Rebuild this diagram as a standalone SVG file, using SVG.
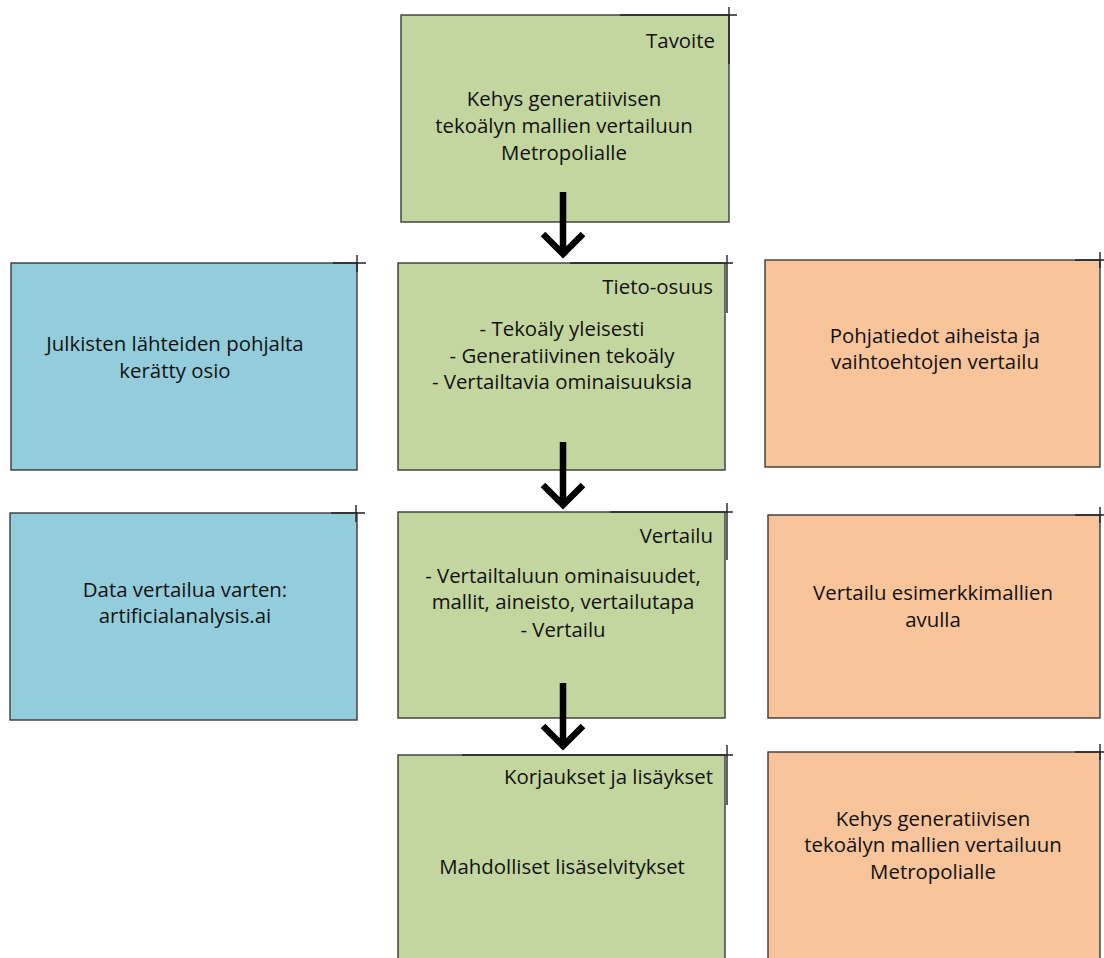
<svg xmlns="http://www.w3.org/2000/svg" width="1104" height="958" viewBox="0 0 1104 958">
<style>
.box{stroke:#3a3a3a;stroke-width:1.4}
.g{fill:#c4d69f}.b{fill:#93cddc}.o{fill:#f8c49b}
.tick{stroke:#222;stroke-width:1.4;fill:none}
text{font-family:"Open Sans","Liberation Sans",Arial,sans-serif;font-size:20.4px;fill:#111}
.c{text-anchor:middle}.r{text-anchor:end}
.arr{stroke:#000;stroke-width:6.5;fill:none;stroke-linejoin:miter}
</style>
<rect width="1104" height="958" fill="#fff"/>
<g id="tavoite">
<rect class="box g" x="401" y="15" width="328" height="207"/>
<path class="tick" d="M620 15H737M729 7V64"/>
<text class="r" x="715" y="48">Tavoite</text>
<text class="c" x="564" y="106">Kehys generatiivisen</text>
<text class="c" x="564" y="133">tekoälyn mallien vertailuun</text>
<text class="c" x="564" y="160">Metropolialle</text>
</g>
<g id="tieto">
<rect class="box g" x="398" y="263" width="327" height="207"/>
<path class="tick" d="M570 263H733M727 255V313"/>
<text class="r" x="713" y="294">Tieto-osuus</text>
<text class="c" x="562" y="336">- Tekoäly yleisesti</text>
<text class="c" x="562" y="363">- Generatiivinen tekoäly</text>
<text class="c" x="562" y="389">- Vertailtavia ominaisuuksia</text>
</g>
<g id="julkiset">
<rect class="box b" x="11" y="263" width="346" height="207"/>
<path class="tick" d="M333 263H366M357 255V272"/>
<text class="c" x="175" y="351">Julkisten lähteiden pohjalta</text>
<text class="c" x="175" y="378">kerätty osio</text>
</g>
<g id="pohjatiedot">
<rect class="box o" x="765" y="260" width="335" height="207"/>
<path class="tick" d="M1075 260H1104M1100 252V268"/>
<text class="c" x="935" y="343">Pohjatiedot aiheista ja</text>
<text class="c" x="935" y="369">vaihtoehtojen vertailu</text>
</g>
<g id="vertailu">
<rect class="box g" x="398" y="512" width="327" height="206"/>
<path class="tick" d="M610 512H733M727 503V560"/>
<text class="r" x="713" y="543">Vertailu</text>
<text class="c" x="563" y="583">- Vertailtaluun ominaisuudet,</text>
<text class="c" x="563" y="609">mallit, aineisto, vertailutapa</text>
<text class="c" x="563" y="637">- Vertailu</text>
</g>
<g id="data">
<rect class="box b" x="10" y="513" width="347" height="207"/>
<path class="tick" d="M331 513H365M356 505V522"/>
<text class="c" x="185" y="597">Data vertailua varten:</text>
<text class="c" x="185" y="623">artificialanalysis.ai</text>
</g>
<g id="esimerkki">
<rect class="box o" x="768" y="515" width="332" height="203"/>
<path class="tick" d="M1075 515H1104M1100 507V523"/>
<text class="c" x="933" y="600">Vertailu esimerkkimallien</text>
<text class="c" x="933" y="627">avulla</text>
</g>
<g id="korjaukset">
<rect class="box g" x="398" y="755" width="327" height="215"/>
<path class="tick" d="M462 755H733M727 745V805"/>
<text class="r" x="713" y="784">Korjaukset ja lisäykset</text>
<text class="c" x="562" y="874">Mahdolliset lisäselvitykset</text>
</g>
<g id="kehys">
<rect class="box o" x="768" y="752" width="332" height="215"/>
<path class="tick" d="M1075 752H1104M1100 744V760"/>
<text class="c" x="933" y="826">Kehys generatiivisen</text>
<text class="c" x="933" y="852">tekoälyn mallien vertailuun</text>
<text class="c" x="933" y="879">Metropolialle</text>
</g>
<g id="connectors">
<path class="arr" d="M563 192V252M543 234L563 254L583 234"/>
<path class="arr" d="M563 442V503M543 485L563 505L583 485"/>
<path class="arr" d="M563 683V744M543 726L563 746L583 726"/>
</g>
</svg>
